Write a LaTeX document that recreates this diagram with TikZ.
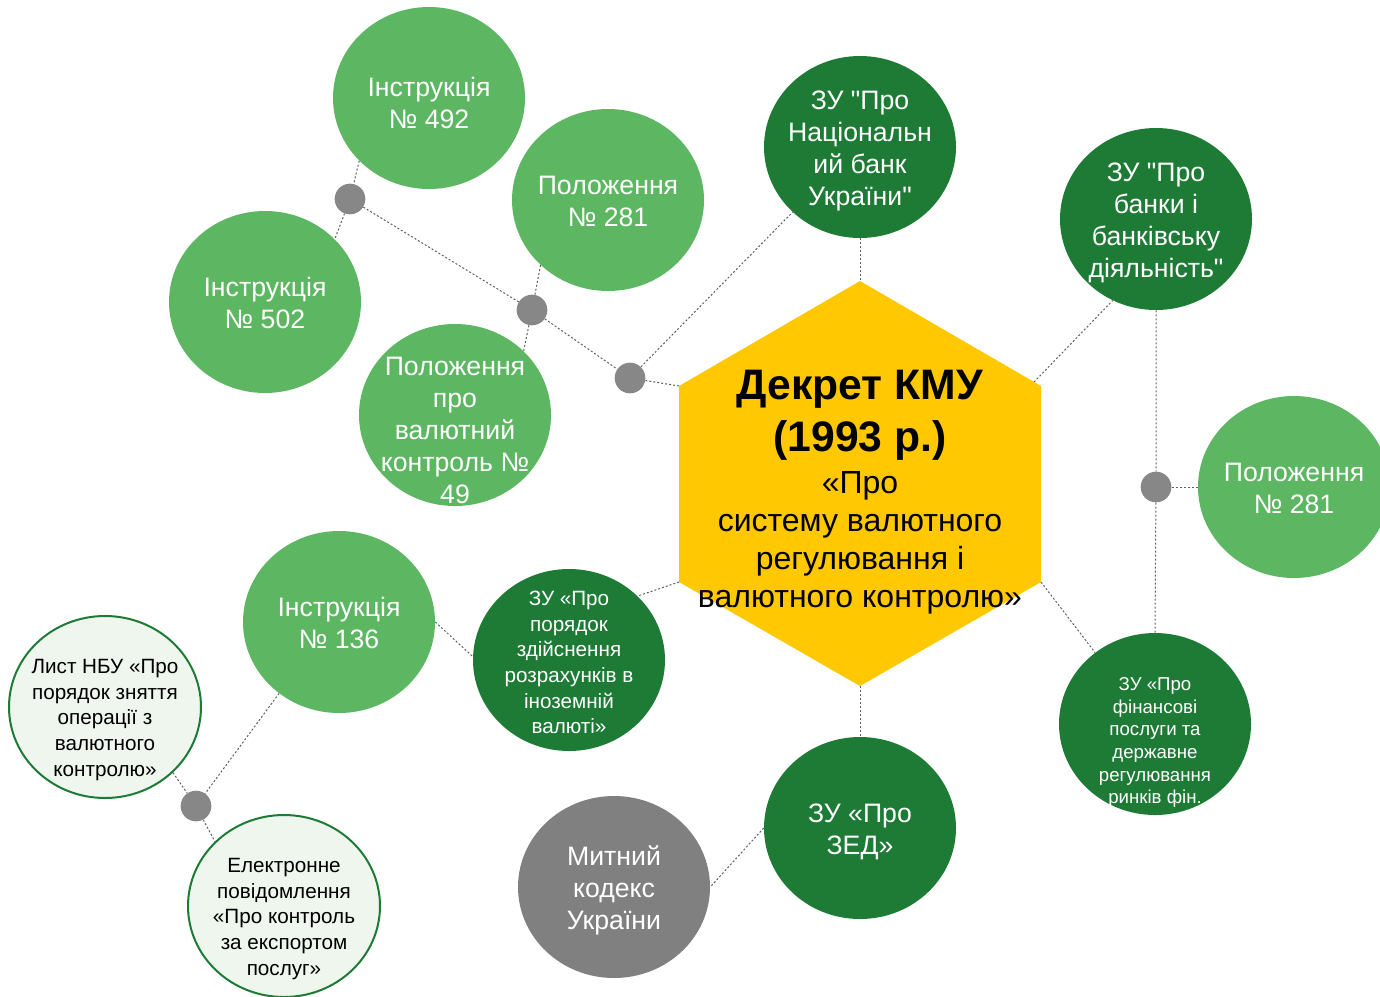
\documentclass[tikz,border=0pt]{standalone}
\usepackage{fontspec}
\setmainfont{Liberation Sans}[Ligatures=TeXOff]
\usetikzlibrary{shapes.geometric}
\definecolor{lgreen}{RGB}{93,183,98}
\definecolor{dgreen}{RGB}{30,123,54}
\definecolor{hexy}{RGB}{255,200,0}
\definecolor{dotg}{RGB}{135,135,135}
\definecolor{mgray}{RGB}{128,128,128}
\definecolor{pale}{RGB}{238,246,238}
\definecolor{lnkc}{RGB}{95,95,95}
\begin{document}
\begin{tikzpicture}[x=0.75pt,y=-0.75pt,
  blob/.style={ellipse, minimum width=144pt, minimum height=136.5pt, inner sep=0pt},
  lg/.style={blob, fill=lgreen},
  dg/.style={blob, fill=dgreen},
  pl/.style={blob, fill=pale, draw=dgreen, line width=1.5pt},
  gr/.style={blob, fill=mgray},
  gdot/.style={circle, fill=dotg, minimum size=23pt, inner sep=0pt},
  lblL/.style={align=center, text=white, inner sep=0pt, font=\fontsize{20}{24}\selectfont},
  lblM/.style={align=center, text=white, inner sep=0pt, font=\fontsize{15.5}{19.3}\selectfont},
  lblS/.style={align=center, text=white, inner sep=0pt, font=\fontsize{14}{17}\selectfont},
  lblB/.style={lblM, text=black},
  lnk/.style={draw=lnkc, line width=0.75pt, dash pattern=on 1.5pt off 1.5pt}
]
\useasboundingbox (0,0) rectangle (1380,996);
\clip (0,0) rectangle (1380,996);

% hexagon
\coordinate (hT) at (860,281);
\coordinate (hUR) at (1041,386);
\coordinate (hRa) at (1034,382);
\coordinate (hLR) at (1041,582);
\coordinate (hB) at (860,686);
\coordinate (hLL) at (679,582);
\coordinate (hUL) at (679,386);
\fill[hexy] (hT) -- (hUR) -- (hLR) -- (hB) -- (hLL) -- (hUL) -- cycle;
\node[anchor=north, align=center, inner sep=0pt, font=\fontsize{24}{28.5}\selectfont] (dec) at (860,369.8)
  {\textbf{\fontsize{32}{39}\selectfont Декрет КМУ}\\[7.9pt]
   \textbf{\fontsize{32}{39}\selectfont (1993 р.)}\\[3pt]
   «Про\\систему валютного\\регулювання і\\валютного контролю»};

% circles
\node[lg] (i492) at (429,98) {};
\node[lg] (p281a) at (608,200) {};
\node[lg] (i502) at (265,302) {};
\node[lg] (p49) at (455,415) {};
\node[dg] (zunbu) at (860,147) {};
\node[dg] (zubank) at (1156,219) {};
\node[lg] (p281b) at (1294,487) {};
\node[dg] (zurozr) at (569,660) {};
\node[lg] (i136) at (339,622) {};
\node[pl] (lyst) at (105,707) {};
\node[pl] (elektr) at (284,906) {};
\node[gr] (mytn) at (614,887) {};
\node[dg] (zed) at (860,828) {};
\node[dg] (zufin) at (1155,724) {};

% dots
\node[gdot] (d1) at (350,199) {};
\node[gdot] (d2) at (532,310) {};
\node[gdot] (d3) at (630,378) {};
\node[gdot] (d4) at (1156,487) {};
\node[gdot] (d5) at (196,806) {};

% labels
\node[lblL] (i492t) at (429,103) {Інструкція\\№ 492};
\node[lblL] (p281at) at (608,201) {Положення\\№ 281};
\node[lblL] (i502t) at (265,303) {Інструкція\\№ 502};
\node[lblL] (p49t) at (455,430) {Положення\\про\\валютний\\контроль №\\49};
\node[lblL] (zunbut) at (860,151) {ЗУ "Про\\Національн\\ий банк\\України"};
\node[lblL] (zubankt) at (1156,223) {ЗУ "Про\\банки і\\банківську\\діяльність"};
\node[lblL] (p281bt) at (1294,488) {Положення\\№ 281};
\node[lblM] (zurozrt) at (569,662.5) {ЗУ «Про\\порядок\\здійснення\\розрахунків в\\іноземній\\валюті»};
\node[lblL] (i136t) at (339,623) {Інструкція\\№ 136};
\node[lblB] (lystt) at (105,720) {Лист НБУ «Про\\порядок зняття\\операції з\\валютного\\контролю»};
\node[lblB] (elektrt) at (284,919) {Електронне\\повідомлення\\«Про контроль\\за експортом\\послуг»};
\node[lblL] (mytnt) at (614,890) {Митний\\кодекс\\України};
\node[lblL] (zedt) at (860,832) {ЗУ «Про\\ЗЕД»};
\node[lblS] (zufint) at (1155,742.5) {ЗУ «Про\\фінансові\\послуги та\\державне\\регулювання\\ринків фін.};

% connectors
\draw[lnk] (i492.222) -- (d1) -- (i502.42);
\draw[lnk] (d1) -- (d2);
\draw[lnk] (p281a.224) -- (d2) -- (p49.43);
\draw[lnk] (d2) -- (d3);
\draw[lnk] (d3) -- (hUL);
\draw[lnk] (d3) -- (zunbu.224);
\draw[lnk] (zunbu.south) -- (hT);
\draw[lnk] (hRa) -- (zubank.242);
\draw[lnk] (zubank.south) -- (d4) -- (zufin.north);
\draw[lnk] (d4) -- (p281b.west);
\draw[lnk] (hLR) -- (zufin.130);
\draw[lnk] (hB) -- (zed.north);
\draw[lnk] (hLL) -- (zurozr.43);
\draw[lnk] (i136.east) -- (zurozr.178);
\draw[lnk] (i136.230) -- (d5);
\draw[lnk] (lyst.316) -- (d5) -- (elektr.137);
\draw[lnk] (zed.west) -- (mytn.east);
\end{tikzpicture}
\end{document}
